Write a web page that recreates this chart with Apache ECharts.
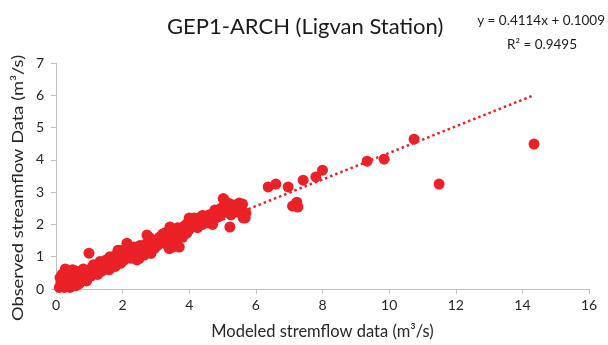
<!DOCTYPE html>
<html>
<head>
<meta charset="utf-8">
<script src="https://cdn.jsdelivr.net/npm/echarts@6/dist/echarts.min.js"></script>
<style>
html,body{margin:0;padding:0;background:#fff;}
#chart{width:608px;height:345px;}
</style>
</head>
<body>
<div id="chart"></div>
<script>
// ---- data ----
const titleText = "GEP1-ARCH (Ligvan Station)";
const xAxisName = "Modeled stremflow data (m³/s)";
const yAxisName = "Observed streamflow Data (m³/s)";
const equationText = "y = 0.4114x + 0.1009";
const r2Text = "R² = 0.9495";
const trendSlope = 0.4114;
const trendIntercept = 0.1009;
const xTicks = [0, 2, 4, 6, 8, 10, 12, 14, 16];
const yTicks = [0, 1, 2, 3, 4, 5, 6, 7];

const modeled = [
  0.10,0.15,0.20,0.22,0.25,0.30,0.32,0.35,0.40,0.42,0.45,0.50,0.50,0.55,0.58,0.60,0.65,0.68,0.70,0.75,0.78,0.80,0.85,0.88,0.90,0.95,0.98,1.00,0.99,
  0.12,0.18,0.28,0.38,0.48,0.62,0.72,0.82,0.92,
  1.05,1.10,1.12,1.15,1.20,1.25,1.30,1.32,1.35,1.40,1.45,1.50,1.52,1.55,1.60,1.62,1.65,1.70,1.75,1.78,1.80,1.85,1.86,1.90,1.92,1.95,2.00,
  2.05,2.10,2.13,2.15,2.20,2.25,2.30,2.35,2.40,2.43,2.45,2.50,2.52,2.55,2.60,2.65,2.70,2.73,2.75,2.80,2.82,2.85,2.90,2.95,3.00,
  3.05,3.10,3.15,3.20,3.25,3.30,3.30,3.35,3.40,3.42,3.45,3.50,3.50,3.55,3.60,3.65,3.70,3.75,3.80,3.85,3.90,3.93,3.93,3.95,4.00,
  4.00,4.05,4.10,4.15,4.20,4.25,4.30,4.35,4.40,4.40,4.45,4.50,4.55,4.60,4.65,4.70,4.75,4.77,4.80,4.85,4.90,4.95,5.00,5.02,5.05,5.10,
  5.13,5.15,5.20,5.22,5.25,5.30,5.35,5.40,5.47,5.50,5.60,5.62,5.68,5.70,
  6.37,6.60,6.97,7.42,7.80,8.00,7.10,7.23,7.26,9.34,9.85,10.75,11.50,14.35
];
const observed = [
  0.05,0.20,0.10,0.35,0.05,0.25,0.50,0.12,0.30,0.05,0.45,0.20,0.60,0.35,0.10,0.28,0.45,0.15,0.35,0.25,0.50,0.40,0.30,0.55,0.45,0.35,0.60,0.50,1.11,
  0.35,0.45,0.62,0.15,0.30,0.55,0.20,0.62,0.25,
  0.40,0.60,0.75,0.50,0.65,0.45,0.70,0.85,0.55,0.75,0.60,0.90,0.70,0.80,0.60,1.00,0.75,0.85,0.95,0.70,1.05,0.85,1.20,0.95,1.20,0.80,1.05,
  0.90,1.15,1.42,1.00,1.25,0.95,1.10,1.30,1.05,0.90,1.20,0.95,1.35,1.15,1.25,1.05,1.40,1.67,1.20,1.60,1.30,1.10,1.45,1.25,1.50,
  1.35,1.60,1.45,1.70,1.50,1.40,1.75,1.60,1.25,1.92,1.80,1.60,1.30,1.45,1.70,1.90,1.30,1.75,1.60,1.95,1.80,1.98,1.73,2.05,1.85,
  2.20,2.15,1.95,2.20,2.05,1.90,2.20,2.10,2.00,2.28,2.25,2.15,2.05,2.30,2.15,2.00,2.30,2.45,2.20,2.40,2.25,2.50,2.35,2.80,2.76,2.55,
  2.45,2.40,2.65,1.92,2.30,2.54,2.60,2.45,2.38,2.66,2.63,2.20,2.20,2.35,
  3.16,3.25,3.16,3.37,3.47,3.68,2.57,2.69,2.54,3.96,4.02,4.64,3.25,4.49
];

const pts = modeled.map((x, i) => [x, observed[i]]);
const xMin = Math.min(...modeled), xMax = Math.max(...modeled);
const trend = [[xMin, trendSlope * xMin + trendIntercept], [xMax, trendSlope * xMax + trendIntercept]];

const FONT = "Lato";
const chart = echarts.init(document.getElementById('chart'), null, {renderer: 'canvas'});
chart.setOption({
  animation: false,
  backgroundColor: '#ffffff',
  title: {
    text: titleText,
    left: 162, top: 11,
    textStyle: {fontFamily: FONT, fontSize: 22, fontWeight: 'normal', color: '#1a1a1a'}
  },
  graphic: [
    {type: 'text', right: 3, top: 14, style: {text: equationText, font: '13.5px ' + FONT, fill: '#1a1a1a', textAlign: 'right'}},
    {type: 'text', right: 31, top: 38, style: {text: r2Text, font: '13.5px ' + FONT, fill: '#1a1a1a', textAlign: 'right'}},
    {type: 'text', x: 18, y: 188, rotation: Math.PI / 2, scaleX: 1.18,
     style: {text: yAxisName, font: '15.5px ' + FONT, fill: '#262626', align: 'center', verticalAlign: 'middle'}}
  ],
  grid: {left: 56, right: 19, top: 63, bottom: 56, containLabel: false},
  xAxis: {
    type: 'value', min: xTicks[0], max: xTicks[xTicks.length - 1], interval: 2,
    name: xAxisName, nameLocation: 'middle', nameGap: 34,
    nameTextStyle: {fontFamily: FONT, fontSize: 16.5, color: '#262626'},
    axisLine: {show: true, lineStyle: {color: '#bfbfbf', width: 1}},
    axisTick: {show: true, length: 5, lineStyle: {color: '#bfbfbf'}},
    axisLabel: {fontFamily: FONT, fontSize: 14, color: '#262626', margin: 9},
    splitLine: {show: false}
  },
  yAxis: {
    type: 'value', min: yTicks[0], max: yTicks[yTicks.length - 1], interval: 1,
    axisLine: {show: true, lineStyle: {color: '#bfbfbf', width: 1}},
    axisTick: {show: true, length: 5, lineStyle: {color: '#bfbfbf'}},
    axisLabel: {fontFamily: FONT, fontSize: 14, color: '#262626', margin: 12},
    splitLine: {show: false}
  },
  series: [
    {
      type: 'scatter', data: pts, symbol: 'circle', symbolSize: 11,
      itemStyle: {color: '#ea2127', opacity: 1}, z: 2
    },
    {
      type: 'line', data: trend, showSymbol: false, symbol: 'none',
      lineStyle: {color: '#ea2127', width: 2.5, type: [2.5, 3]}, z: 3
    }
  ]
});
</script>
</body>
</html>
